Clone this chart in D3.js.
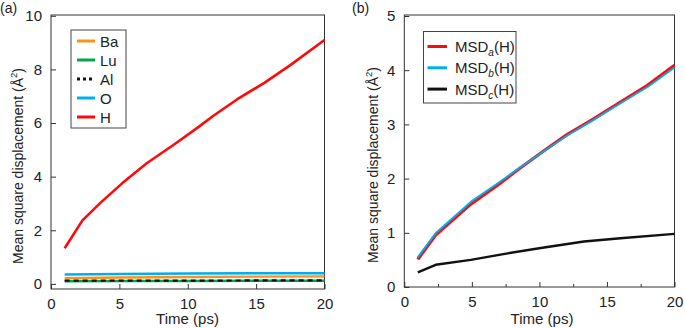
<!DOCTYPE html>
<html><head><meta charset="utf-8">
<script src="https://cdn.jsdelivr.net/npm/d3@7"></script>
<style>
body{margin:0;background:#fff;}
text{font-family:"Liberation Sans",Arial,sans-serif;fill:#222;}
</style></head>
<body><svg id="c" width="685" height="328"></svg>
<script>
// ---- Panel (a) data ----
const tH = [1, 2.3, 3.65, 5.2, 7, 9, 10.7, 11.9, 13.6, 15.6, 17.5, 20];
const msdH = [1.33, 2.37, 3.04, 3.75, 4.5, 5.2, 5.82, 6.28, 6.88, 7.5, 8.16, 9.1];
const tLow = [1, 5, 10, 15, 20];
const msdBa = [0.21, 0.24, 0.26, 0.27, 0.28];
const msdLu = [0.10, 0.11, 0.11, 0.12, 0.12];
const msdAl = [0.12, 0.12, 0.12, 0.13, 0.13];
const msdO = [0.35, 0.37, 0.39, 0.40, 0.40];
const legendA = ["Ba", "Lu", "Al", "O", "H"];
const ticksAx = [0, 5, 10, 15, 20];
const ticksAy = [0, 2, 4, 6, 8, 10];

// ---- Panel (b) data ----
const tB = [1, 2.32, 4.92, 6.9, 8.6, 10.6, 12.1, 13.8, 16.0, 18.0, 20];
const msdA = [0.51, 0.96, 1.53, 1.88, 2.20, 2.56, 2.82, 3.07, 3.41, 3.72, 4.09];
const msdB = [0.55, 0.99, 1.57, 1.91, 2.21, 2.55, 2.80, 3.05, 3.39, 3.69, 4.05];
const tC = [1, 2.32, 4.92, 7.65, 10.1, 13.3, 16.0, 20];
const msdC = [0.27, 0.41, 0.50, 0.62, 0.72, 0.84, 0.90, 0.98];
const legendB = ["a", "b", "c"];
const ticksBx = [0, 5, 10, 15, 20];
const ticksBxMinor = [2.5, 7.5, 12.5, 17.5];
const ticksBy = [0, 1, 2, 3, 4, 5];

const C = {Ba:"#F7941D", Lu:"#00A651", Al:"#111", O:"#00AEEF", H:"#FF0A0A", c:"#111"};
const svg = d3.select("#c");

function frame(g, x0, x1, y0, y1){
  g.append("rect").attr("x",x0).attr("y",y0).attr("width",x1-x0).attr("height",y1-y0)
   .attr("fill","none").attr("stroke","#333").attr("stroke-width",1);
}

function axes(g, x, y, xt, yt, xminor){
  const [xr0,xr1] = x.range(), [yr0,yr1] = y.range();
  const ax = d3.axisBottom(x).tickValues(xt).tickSizeInner(-5).tickSizeOuter(0).tickPadding(9).tickFormat(d3.format("d"));
  const gx = g.append("g").attr("transform",`translate(0,${yr0})`).call(ax);
  if (xminor){
    const am = d3.axisBottom(x).tickValues(xminor).tickSizeInner(-3).tickSizeOuter(0).tickFormat("");
    g.append("g").attr("transform",`translate(0,${yr0})`).call(am).select(".domain").remove();
  }
  const ay = d3.axisLeft(y).tickValues(yt).tickSizeInner(-5).tickSizeOuter(0).tickPadding(9).tickFormat(d3.format("d"));
  const gy = g.append("g").attr("transform",`translate(${xr0},0)`).call(ay);
  [gx,gy].forEach(a=>{
    a.select(".domain").remove();
    a.selectAll("line").attr("stroke","#333");
    a.selectAll("text").style("font-size","15px").attr("fill","#222").style("font-family","Liberation Sans, Arial, sans-serif");
  });
  g.selectAll("g line").attr("stroke","#333");
}

function drawLine(g, x, y, xs, ys, color, dash, w){
  const line = d3.line().x((d,i)=>x(xs[i])).y(d=>y(d));
  const p = g.append("path").datum(ys).attr("d",line).attr("fill","none")
    .attr("stroke",color).attr("stroke-width",w||2.4).attr("stroke-linejoin","round");
  if (dash) p.attr("stroke-dasharray",dash);
  return p;
}

// ===== Panel (a) =====
{
  const g = svg.append("g");
  const x = d3.scaleLinear().domain([0,20]).range([51,324.5]);
  const y = d3.scaleLinear().domain([-0.19,10.03]).range([289,15]);
  frame(g, 51, 324.5, 15, 289);
  axes(g, x, y, ticksAx, ticksAy, null);
  drawLine(g, x, y, tLow, msdBa, C.Ba);
  drawLine(g, x, y, tLow, msdLu, C.Lu);
  drawLine(g, x, y, tLow, msdAl, C.Al, "5,4", 2.2);
  drawLine(g, x, y, tLow, msdO, C.O);
  drawLine(g, x, y, tH, msdH, C.H, null, 2.6);

  // legend
  const lg = g.append("g");
  lg.append("rect").attr("x",71).attr("y",30).attr("width",55).attr("height",98)
    .attr("fill","#fff").attr("stroke","#444").attr("stroke-width",1);
  legendA.forEach((k,i)=>{
    const yy = 41 + i*19;
    const l = lg.append("line").attr("x1",77).attr("x2",95).attr("y1",yy).attr("y2",yy)
      .attr("stroke",C[k]).attr("stroke-width",3);
    if (k==="Al") l.attr("stroke-dasharray","3,3");
    lg.append("text").attr("x",100).attr("y",yy+5.5).text(k).style("font-size","15px");
  });

  g.append("text").attr("x",0).attr("y",13).text("(a)").style("font-size","14px");
  g.append("text").attr("x",187.5).attr("y",324).attr("text-anchor","middle").text("Time (ps)").style("font-size","15px");
  const yt = g.append("text").attr("transform","translate(23,166) rotate(-90)").attr("text-anchor","middle").style("font-size","14px");
  yt.append("tspan").text("Mean square displacement (Å");
  yt.append("tspan").text("2").attr("dy","-6").style("font-size","9.5px");
  yt.append("tspan").text(")").attr("dy","6");
}

// ===== Panel (b) =====
{
  const g = svg.append("g");
  const x = d3.scaleLinear().domain([0,20]).range([404.3,674.5]);
  const y = d3.scaleLinear().domain([0,5]).range([287,16]);
  frame(g, 404.3, 674.5, 15, 287);
  axes(g, x, y, ticksBx, ticksBy, ticksBxMinor);
  drawLine(g, x, y, tB, msdA, C.H, null, 3.2);
  drawLine(g, x, y, tB, msdB, C.O, null, 2.0);
  drawLine(g, x, y, tC, msdC, C.c, null, 2.4);

  const lg = g.append("g");
  lg.append("rect").attr("x",423.5).attr("y",31.5).attr("width",92.5).attr("height",71.5)
    .attr("fill","#fff").attr("stroke","#444").attr("stroke-width",1);
  const cols = [C.H, C.O, C.c];
  legendB.forEach((k,i)=>{
    const yy = 46.5 + i*21.3;
    lg.append("line").attr("x1",427.5).attr("x2",447).attr("y1",yy).attr("y2",yy)
      .attr("stroke",cols[i]).attr("stroke-width",3);
    const t = lg.append("text").attr("x",455).attr("y",yy+5.5).style("font-size","15px");
    t.append("tspan").text("MSD");
    t.append("tspan").text(k).attr("dy","4").style("font-size","10px").style("font-style","italic");
    t.append("tspan").text("(H)").attr("dy","-4");
  });

  g.append("text").attr("x",352).attr("y",13).text("(b)").style("font-size","14px");
  g.append("text").attr("x",542).attr("y",324).attr("text-anchor","middle").text("Time (ps)").style("font-size","15px");
  const yt = g.append("text").attr("transform","translate(378,165) rotate(-90)").attr("text-anchor","middle").style("font-size","14px");
  yt.append("tspan").text("Mean square displacement (Å");
  yt.append("tspan").text("2").attr("dy","-6").style("font-size","9.5px");
  yt.append("tspan").text(")").attr("dy","6");
}
</script></body></html>
